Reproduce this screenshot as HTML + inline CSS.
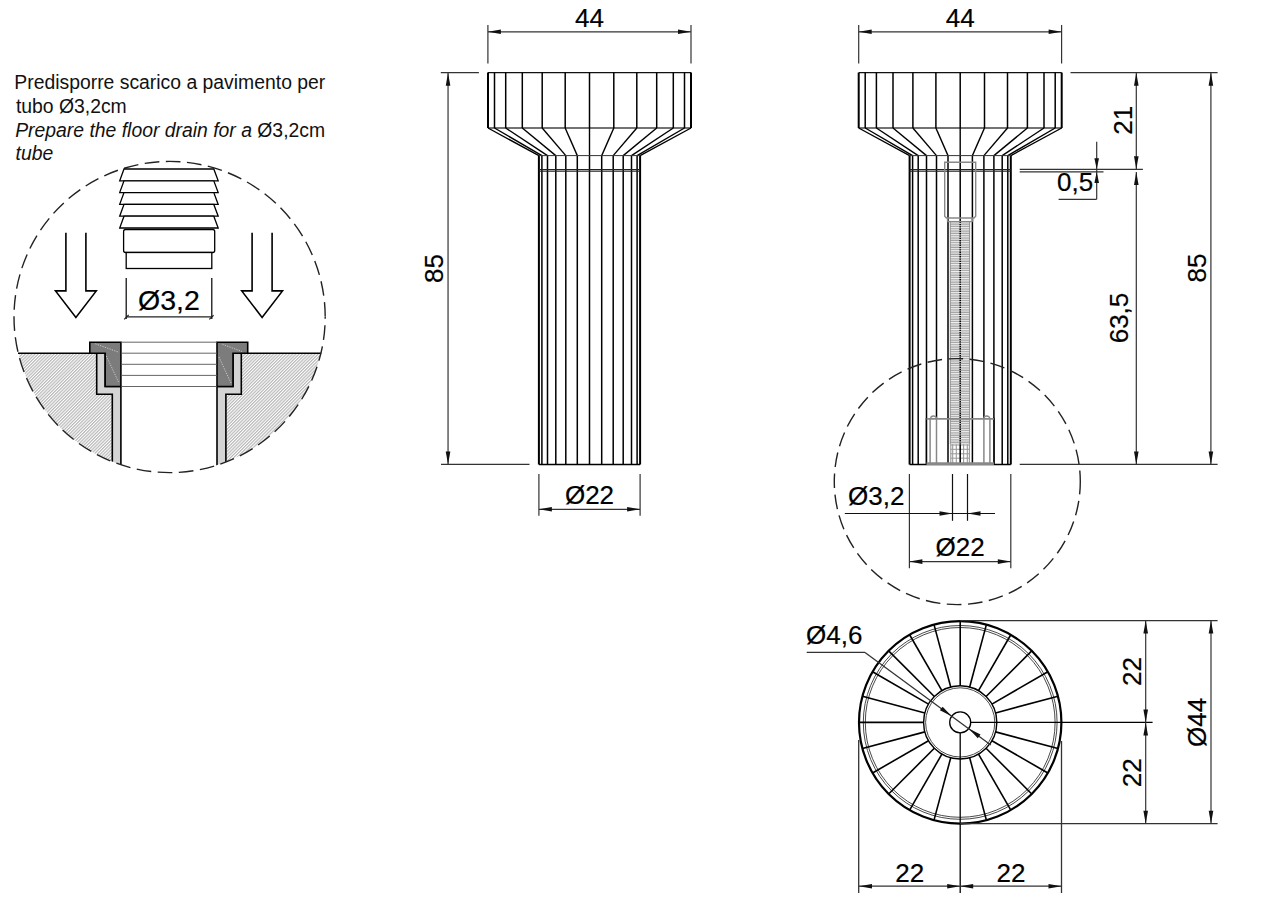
<!DOCTYPE html>
<html><head><meta charset="utf-8"><style>
html,body{margin:0;padding:0;background:#fff;width:1261px;height:902px;overflow:hidden}
svg{display:block}
text{font-family:"Liberation Sans",sans-serif;fill:#000;stroke:#000;stroke-width:0.2px}
text.b{stroke:none;fill:#111}
</style></head><body>
<svg width="1261" height="902" viewBox="0 0 1261 902">
<defs>
<pattern id="hat" patternUnits="userSpaceOnUse" width="2.25" height="10" patternTransform="rotate(45)">
<rect width="2.25" height="10" fill="#fff"/><rect x="0" y="0" width="1.2" height="10" fill="#b8b8b8"/></pattern>
<pattern id="thr" patternUnits="userSpaceOnUse" width="20" height="2.32" y="221.6">
<rect width="20" height="2.32" fill="#a2a2a2"/><rect y="0.9" width="20" height="0.95" fill="#fff"/></pattern>
</defs>
<rect width="1261" height="902" fill="#fff"/>
<line x1="488.00" y1="72.60" x2="691.00" y2="72.60" stroke="#111" stroke-width="1.3" />
<line x1="488.00" y1="128.00" x2="691.00" y2="128.00" stroke="#444" stroke-width="1.3" />
<line x1="589.50" y1="72.60" x2="589.50" y2="128.00" stroke="#000" stroke-width="1.5" />
<line x1="589.50" y1="128.00" x2="589.50" y2="155.60" stroke="#000" stroke-width="1.4" />
<line x1="589.50" y1="155.60" x2="589.50" y2="464.40" stroke="#000" stroke-width="1.5" />
<line x1="565.20" y1="72.60" x2="565.20" y2="128.00" stroke="#000" stroke-width="1.5" />
<line x1="565.20" y1="128.00" x2="577.30" y2="155.60" stroke="#000" stroke-width="1.4" />
<line x1="577.30" y1="155.60" x2="577.30" y2="464.40" stroke="#000" stroke-width="1.5" />
<line x1="542.20" y1="72.60" x2="542.20" y2="128.00" stroke="#000" stroke-width="1.5" />
<line x1="542.20" y1="128.00" x2="565.80" y2="155.60" stroke="#000" stroke-width="1.4" />
<line x1="565.80" y1="155.60" x2="565.80" y2="464.40" stroke="#000" stroke-width="1.5" />
<line x1="522.30" y1="72.60" x2="522.30" y2="128.00" stroke="#000" stroke-width="1.5" />
<line x1="522.30" y1="128.00" x2="555.80" y2="155.60" stroke="#000" stroke-width="1.4" />
<line x1="555.80" y1="155.60" x2="555.80" y2="464.40" stroke="#000" stroke-width="1.5" />
<line x1="505.70" y1="72.60" x2="505.70" y2="128.00" stroke="#000" stroke-width="1.5" />
<line x1="505.70" y1="128.00" x2="547.50" y2="155.60" stroke="#000" stroke-width="1.4" />
<line x1="547.50" y1="155.60" x2="547.50" y2="464.40" stroke="#000" stroke-width="1.5" />
<line x1="494.50" y1="72.60" x2="494.50" y2="128.00" stroke="#000" stroke-width="1.5" />
<line x1="494.50" y1="128.00" x2="541.90" y2="155.60" stroke="#000" stroke-width="1.4" />
<line x1="541.90" y1="155.60" x2="541.90" y2="464.40" stroke="#000" stroke-width="1.5" />
<line x1="488.00" y1="72.60" x2="488.00" y2="128.00" stroke="#000" stroke-width="2.0" />
<line x1="488.00" y1="128.00" x2="538.90" y2="155.60" stroke="#000" stroke-width="1.4" />
<line x1="538.90" y1="155.60" x2="538.90" y2="464.40" stroke="#000" stroke-width="2.0" />
<line x1="613.80" y1="72.60" x2="613.80" y2="128.00" stroke="#000" stroke-width="1.5" />
<line x1="613.80" y1="128.00" x2="601.70" y2="155.60" stroke="#000" stroke-width="1.4" />
<line x1="601.70" y1="155.60" x2="601.70" y2="464.40" stroke="#000" stroke-width="1.5" />
<line x1="636.80" y1="72.60" x2="636.80" y2="128.00" stroke="#000" stroke-width="1.5" />
<line x1="636.80" y1="128.00" x2="613.20" y2="155.60" stroke="#000" stroke-width="1.4" />
<line x1="613.20" y1="155.60" x2="613.20" y2="464.40" stroke="#000" stroke-width="1.5" />
<line x1="656.70" y1="72.60" x2="656.70" y2="128.00" stroke="#000" stroke-width="1.5" />
<line x1="656.70" y1="128.00" x2="623.20" y2="155.60" stroke="#000" stroke-width="1.4" />
<line x1="623.20" y1="155.60" x2="623.20" y2="464.40" stroke="#000" stroke-width="1.5" />
<line x1="673.30" y1="72.60" x2="673.30" y2="128.00" stroke="#000" stroke-width="1.5" />
<line x1="673.30" y1="128.00" x2="631.50" y2="155.60" stroke="#000" stroke-width="1.4" />
<line x1="631.50" y1="155.60" x2="631.50" y2="464.40" stroke="#000" stroke-width="1.5" />
<line x1="684.50" y1="72.60" x2="684.50" y2="128.00" stroke="#000" stroke-width="1.5" />
<line x1="684.50" y1="128.00" x2="637.10" y2="155.60" stroke="#000" stroke-width="1.4" />
<line x1="637.10" y1="155.60" x2="637.10" y2="464.40" stroke="#000" stroke-width="1.5" />
<line x1="691.00" y1="72.60" x2="691.00" y2="128.00" stroke="#000" stroke-width="2.0" />
<line x1="691.00" y1="128.00" x2="640.10" y2="155.60" stroke="#000" stroke-width="1.4" />
<line x1="640.10" y1="155.60" x2="640.10" y2="464.40" stroke="#000" stroke-width="2.0" />
<line x1="538.90" y1="155.60" x2="640.10" y2="155.60" stroke="#333" stroke-width="1.0" />
<line x1="538.90" y1="169.60" x2="640.10" y2="169.60" stroke="#222" stroke-width="1.1" />
<line x1="538.90" y1="171.20" x2="640.10" y2="171.20" stroke="#222" stroke-width="1.1" />
<line x1="538.90" y1="464.40" x2="640.10" y2="464.40" stroke="#000" stroke-width="1.5" />
<line x1="858.70" y1="72.60" x2="1061.70" y2="72.60" stroke="#111" stroke-width="1.3" />
<line x1="858.70" y1="128.00" x2="1061.70" y2="128.00" stroke="#444" stroke-width="1.3" />
<line x1="960.20" y1="72.60" x2="960.20" y2="128.00" stroke="#000" stroke-width="1.5" />
<line x1="960.20" y1="128.00" x2="960.20" y2="155.60" stroke="#000" stroke-width="1.4" />
<line x1="960.20" y1="155.60" x2="960.20" y2="464.40" stroke="#000" stroke-width="1.5" />
<line x1="935.90" y1="72.60" x2="935.90" y2="128.00" stroke="#000" stroke-width="1.5" />
<line x1="935.90" y1="128.00" x2="948.00" y2="155.60" stroke="#000" stroke-width="1.4" />
<line x1="948.00" y1="155.60" x2="948.00" y2="464.40" stroke="#000" stroke-width="1.5" />
<line x1="912.90" y1="72.60" x2="912.90" y2="128.00" stroke="#000" stroke-width="1.5" />
<line x1="912.90" y1="128.00" x2="936.50" y2="155.60" stroke="#000" stroke-width="1.4" />
<line x1="936.50" y1="155.60" x2="936.50" y2="464.40" stroke="#000" stroke-width="1.5" />
<line x1="893.00" y1="72.60" x2="893.00" y2="128.00" stroke="#000" stroke-width="1.5" />
<line x1="893.00" y1="128.00" x2="926.50" y2="155.60" stroke="#000" stroke-width="1.4" />
<line x1="926.50" y1="155.60" x2="926.50" y2="464.40" stroke="#000" stroke-width="1.5" />
<line x1="876.40" y1="72.60" x2="876.40" y2="128.00" stroke="#000" stroke-width="1.5" />
<line x1="876.40" y1="128.00" x2="918.20" y2="155.60" stroke="#000" stroke-width="1.4" />
<line x1="918.20" y1="155.60" x2="918.20" y2="464.40" stroke="#000" stroke-width="1.5" />
<line x1="865.20" y1="72.60" x2="865.20" y2="128.00" stroke="#000" stroke-width="1.5" />
<line x1="865.20" y1="128.00" x2="912.60" y2="155.60" stroke="#000" stroke-width="1.4" />
<line x1="912.60" y1="155.60" x2="912.60" y2="464.40" stroke="#000" stroke-width="1.5" />
<line x1="858.70" y1="72.60" x2="858.70" y2="128.00" stroke="#000" stroke-width="2.0" />
<line x1="858.70" y1="128.00" x2="909.60" y2="155.60" stroke="#000" stroke-width="1.4" />
<line x1="909.60" y1="155.60" x2="909.60" y2="464.40" stroke="#000" stroke-width="2.0" />
<line x1="984.50" y1="72.60" x2="984.50" y2="128.00" stroke="#000" stroke-width="1.5" />
<line x1="984.50" y1="128.00" x2="972.40" y2="155.60" stroke="#000" stroke-width="1.4" />
<line x1="972.40" y1="155.60" x2="972.40" y2="464.40" stroke="#000" stroke-width="1.5" />
<line x1="1007.50" y1="72.60" x2="1007.50" y2="128.00" stroke="#000" stroke-width="1.5" />
<line x1="1007.50" y1="128.00" x2="983.90" y2="155.60" stroke="#000" stroke-width="1.4" />
<line x1="983.90" y1="155.60" x2="983.90" y2="464.40" stroke="#000" stroke-width="1.5" />
<line x1="1027.40" y1="72.60" x2="1027.40" y2="128.00" stroke="#000" stroke-width="1.5" />
<line x1="1027.40" y1="128.00" x2="993.90" y2="155.60" stroke="#000" stroke-width="1.4" />
<line x1="993.90" y1="155.60" x2="993.90" y2="464.40" stroke="#000" stroke-width="1.5" />
<line x1="1044.00" y1="72.60" x2="1044.00" y2="128.00" stroke="#000" stroke-width="1.5" />
<line x1="1044.00" y1="128.00" x2="1002.20" y2="155.60" stroke="#000" stroke-width="1.4" />
<line x1="1002.20" y1="155.60" x2="1002.20" y2="464.40" stroke="#000" stroke-width="1.5" />
<line x1="1055.20" y1="72.60" x2="1055.20" y2="128.00" stroke="#000" stroke-width="1.5" />
<line x1="1055.20" y1="128.00" x2="1007.80" y2="155.60" stroke="#000" stroke-width="1.4" />
<line x1="1007.80" y1="155.60" x2="1007.80" y2="464.40" stroke="#000" stroke-width="1.5" />
<line x1="1061.70" y1="72.60" x2="1061.70" y2="128.00" stroke="#000" stroke-width="2.0" />
<line x1="1061.70" y1="128.00" x2="1010.80" y2="155.60" stroke="#000" stroke-width="1.4" />
<line x1="1010.80" y1="155.60" x2="1010.80" y2="464.40" stroke="#000" stroke-width="2.0" />
<line x1="909.60" y1="155.60" x2="1010.80" y2="155.60" stroke="#333" stroke-width="1.0" />
<line x1="909.60" y1="169.60" x2="1010.80" y2="169.60" stroke="#222" stroke-width="1.1" />
<line x1="909.60" y1="171.20" x2="1010.80" y2="171.20" stroke="#222" stroke-width="1.1" />
<line x1="909.60" y1="464.40" x2="1010.80" y2="464.40" stroke="#000" stroke-width="1.5" />
<rect x="926.50" y="418.8" width="67.40" height="45.19999999999999" fill="#fff"/>
<line x1="930.10" y1="418.80" x2="930.10" y2="464.00" stroke="#888" stroke-width="1.5" />
<line x1="936.50" y1="418.80" x2="936.50" y2="464.00" stroke="#888" stroke-width="1.5" />
<line x1="983.90" y1="418.80" x2="983.90" y2="464.00" stroke="#888" stroke-width="1.5" />
<line x1="989.90" y1="418.80" x2="989.90" y2="464.00" stroke="#888" stroke-width="1.5" />
<path d="M930.6,418.8 a3,2.8 0 0 1 6,0" fill="none" stroke="#888" stroke-width="1.3"/>
<path d="M983.8,418.8 a3,2.8 0 0 1 6,0" fill="none" stroke="#888" stroke-width="1.3"/>
<line x1="926.50" y1="417.80" x2="926.50" y2="464.00" stroke="#000" stroke-width="1.5" />
<line x1="993.90" y1="417.80" x2="993.90" y2="464.00" stroke="#000" stroke-width="1.5" />
<rect x="950.3" y="221.6" width="19.3" height="222.7" fill="url(#thr)"/>
<line x1="948.00" y1="417.80" x2="948.00" y2="464.00" stroke="#000" stroke-width="1.5" />
<line x1="972.40" y1="417.80" x2="972.40" y2="464.00" stroke="#000" stroke-width="1.5" />
<line x1="960.20" y1="221.60" x2="960.20" y2="464.00" stroke="#000" stroke-width="1.5" stroke-dasharray="1.4 0.9"/>
<path d="M944.7,162.2 L975.7,162.2 L975.7,216.3 L974.0,218 L946.4,218 L944.7,216.3 Z" fill="none" stroke="#888" stroke-width="1.4"/>
<line x1="947.50" y1="218.00" x2="947.50" y2="221.60" stroke="#888" stroke-width="1.3" />
<line x1="972.70" y1="218.00" x2="972.70" y2="221.60" stroke="#888" stroke-width="1.3" />
<line x1="947.50" y1="221.60" x2="972.70" y2="221.60" stroke="#888" stroke-width="1.3" />
<line x1="950.30" y1="221.60" x2="950.30" y2="444.30" stroke="#888" stroke-width="0.9" />
<line x1="969.60" y1="221.60" x2="969.60" y2="444.30" stroke="#888" stroke-width="0.9" />
<rect x="950.5" y="444.3" width="19" height="19" fill="#fff"/>
<line x1="950.80" y1="444.30" x2="950.80" y2="464.00" stroke="#999" stroke-width="1.1" />
<line x1="952.70" y1="444.30" x2="952.70" y2="464.00" stroke="#999" stroke-width="1.1" />
<line x1="956.30" y1="444.30" x2="956.30" y2="464.00" stroke="#999" stroke-width="1.1" />
<line x1="963.60" y1="444.30" x2="963.60" y2="464.00" stroke="#999" stroke-width="1.1" />
<line x1="967.30" y1="444.30" x2="967.30" y2="464.00" stroke="#999" stroke-width="1.1" />
<line x1="969.40" y1="444.30" x2="969.40" y2="464.00" stroke="#999" stroke-width="1.1" />
<line x1="950.50" y1="445.00" x2="969.50" y2="445.00" stroke="#999" stroke-width="1.0" />
<line x1="950.50" y1="449.30" x2="969.50" y2="449.30" stroke="#999" stroke-width="1.0" />
<line x1="950.50" y1="453.80" x2="969.50" y2="453.80" stroke="#999" stroke-width="1.0" />
<line x1="950.50" y1="458.20" x2="969.50" y2="458.20" stroke="#999" stroke-width="1.0" />
<line x1="960.20" y1="444.30" x2="960.20" y2="464.00" stroke="#000" stroke-width="1.5" />
<line x1="926.50" y1="418.80" x2="993.90" y2="418.80" stroke="#888" stroke-width="1.7" />
<line x1="926.50" y1="463.60" x2="993.90" y2="463.60" stroke="#888" stroke-width="2.8" />
<line x1="487.90" y1="25.00" x2="487.90" y2="63.50" stroke="#333" stroke-width="1.2" />
<line x1="691.00" y1="25.00" x2="691.00" y2="63.50" stroke="#333" stroke-width="1.2" />
<line x1="487.90" y1="31.80" x2="691.00" y2="31.80" stroke="#333" stroke-width="1.2" />
<polygon points="487.90,31.80 500.90,29.50 500.90,34.10" fill="#111"/>
<polygon points="691.00,31.80 678.00,34.10 678.00,29.50" fill="#111"/>
<text x="589.50" y="26.60" font-size="26" text-anchor="middle" >44</text>
<line x1="440.80" y1="72.70" x2="478.90" y2="72.70" stroke="#333" stroke-width="1.2" />
<line x1="441.00" y1="464.40" x2="529.50" y2="464.40" stroke="#333" stroke-width="1.2" />
<line x1="448.05" y1="72.70" x2="448.05" y2="464.40" stroke="#333" stroke-width="1.2" />
<polygon points="448.05,72.70 450.35,85.70 445.75,85.70" fill="#111"/>
<polygon points="448.05,464.40 445.75,451.40 450.35,451.40" fill="#111"/>
<text x="442.80" y="268.50" font-size="26" text-anchor="middle" transform="rotate(-90 442.80 268.50)" >85</text>
<line x1="538.90" y1="474.00" x2="538.90" y2="515.70" stroke="#333" stroke-width="1.2" />
<line x1="640.10" y1="474.00" x2="640.10" y2="515.70" stroke="#333" stroke-width="1.2" />
<line x1="538.90" y1="509.30" x2="640.10" y2="509.30" stroke="#333" stroke-width="1.2" />
<polygon points="538.90,509.30 551.90,507.00 551.90,511.60" fill="#111"/>
<polygon points="640.10,509.30 627.10,511.60 627.10,507.00" fill="#111"/>
<text x="589.50" y="503.80" font-size="26" text-anchor="middle" >Ø22</text>
<line x1="858.70" y1="25.00" x2="858.70" y2="63.50" stroke="#333" stroke-width="1.2" />
<line x1="1061.60" y1="25.00" x2="1061.60" y2="63.50" stroke="#333" stroke-width="1.2" />
<line x1="858.70" y1="31.80" x2="1061.60" y2="31.80" stroke="#333" stroke-width="1.2" />
<polygon points="858.70,31.80 871.70,29.50 871.70,34.10" fill="#111"/>
<polygon points="1061.60,31.80 1048.60,34.10 1048.60,29.50" fill="#111"/>
<text x="960.20" y="26.60" font-size="26" text-anchor="middle" >44</text>
<line x1="1070.50" y1="72.70" x2="1217.60" y2="72.70" stroke="#333" stroke-width="1.2" />
<line x1="1019.70" y1="169.30" x2="1142.90" y2="169.30" stroke="#333" stroke-width="1.2" />
<line x1="1019.70" y1="171.90" x2="1103.50" y2="171.90" stroke="#333" stroke-width="1.2" />
<line x1="1019.70" y1="464.40" x2="1217.60" y2="464.40" stroke="#333" stroke-width="1.2" />
<line x1="1136.30" y1="72.70" x2="1136.30" y2="169.30" stroke="#333" stroke-width="1.2" />
<polygon points="1136.30,72.70 1138.60,85.70 1134.00,85.70" fill="#111"/>
<polygon points="1136.30,169.30 1134.00,156.30 1138.60,156.30" fill="#111"/>
<text x="1131.70" y="120.20" font-size="26" text-anchor="middle" transform="rotate(-90 1131.70 120.20)" >21</text>
<line x1="1136.30" y1="171.90" x2="1136.30" y2="464.40" stroke="#333" stroke-width="1.2" />
<polygon points="1136.30,171.90 1138.60,184.90 1134.00,184.90" fill="#111"/>
<polygon points="1136.30,464.40 1134.00,451.40 1138.60,451.40" fill="#111"/>
<text x="1127.80" y="318.00" font-size="26" text-anchor="middle" transform="rotate(-90 1127.80 318.00)" >63,5</text>
<line x1="1210.90" y1="72.70" x2="1210.90" y2="464.40" stroke="#333" stroke-width="1.2" />
<polygon points="1210.90,72.70 1213.20,85.70 1208.60,85.70" fill="#111"/>
<polygon points="1210.90,464.40 1208.60,451.40 1213.20,451.40" fill="#111"/>
<text x="1206.30" y="268.00" font-size="26" text-anchor="middle" transform="rotate(-90 1206.30 268.00)" >85</text>
<line x1="1096.70" y1="141.70" x2="1096.70" y2="199.30" stroke="#333" stroke-width="1.2" />
<polygon points="1096.70,169.30 1094.40,158.30 1099.00,158.30" fill="#111"/>
<polygon points="1096.70,171.90 1099.00,182.90 1094.40,182.90" fill="#111"/>
<line x1="1058.60" y1="199.30" x2="1096.70" y2="199.30" stroke="#333" stroke-width="1.2" />
<text x="1075.20" y="191.20" font-size="26" text-anchor="middle" >0,5</text>
<line x1="909.40" y1="474.00" x2="909.40" y2="568.20" stroke="#333" stroke-width="1.2" />
<line x1="1010.80" y1="474.00" x2="1010.80" y2="568.20" stroke="#333" stroke-width="1.2" />
<line x1="909.40" y1="561.60" x2="1010.80" y2="561.60" stroke="#333" stroke-width="1.2" />
<polygon points="909.40,561.60 922.40,559.30 922.40,563.90" fill="#111"/>
<polygon points="1010.80,561.60 997.80,563.90 997.80,559.30" fill="#111"/>
<text x="960.20" y="555.90" font-size="26" text-anchor="middle" >Ø22</text>
<line x1="952.50" y1="474.00" x2="952.50" y2="520.80" stroke="#111" stroke-width="1.2" />
<line x1="967.50" y1="474.00" x2="967.50" y2="520.80" stroke="#111" stroke-width="1.2" />
<line x1="844.80" y1="513.50" x2="995.00" y2="513.50" stroke="#111" stroke-width="1.2" />
<polygon points="952.50,513.50 939.50,515.80 939.50,511.20" fill="#111"/>
<polygon points="967.50,513.50 980.50,511.20 980.50,515.80" fill="#111"/>
<text x="876.30" y="505.00" font-size="26" text-anchor="middle" >Ø3,2</text>
<circle cx="957.3" cy="481.6" r="123" fill="none" stroke="#222" stroke-width="1.4" stroke-dasharray="14.7 6.5" stroke-dashoffset="1.85"/>
<circle cx="960.2" cy="722.4" r="101.2" fill="none" stroke="#000" stroke-width="2.2"/>
<circle cx="960.2" cy="722.4" r="96.9" fill="none" stroke="#333" stroke-width="0.9"/>
<circle cx="960.2" cy="722.4" r="94.9" fill="none" stroke="#333" stroke-width="0.9"/>
<line x1="960.20" y1="685.80" x2="960.20" y2="621.20" stroke="#000" stroke-width="1.6" />
<line x1="969.67" y1="687.05" x2="986.39" y2="624.65" stroke="#000" stroke-width="1.6" />
<line x1="978.50" y1="690.70" x2="1010.80" y2="634.76" stroke="#000" stroke-width="1.6" />
<line x1="986.08" y1="696.52" x2="1031.76" y2="650.84" stroke="#000" stroke-width="1.6" />
<line x1="991.90" y1="704.10" x2="1047.84" y2="671.80" stroke="#000" stroke-width="1.6" />
<line x1="995.55" y1="712.93" x2="1057.95" y2="696.21" stroke="#000" stroke-width="1.6" />
<line x1="995.55" y1="731.87" x2="1057.95" y2="748.59" stroke="#000" stroke-width="1.6" />
<line x1="991.90" y1="740.70" x2="1047.84" y2="773.00" stroke="#000" stroke-width="1.6" />
<line x1="986.08" y1="748.28" x2="1031.76" y2="793.96" stroke="#000" stroke-width="1.6" />
<line x1="978.50" y1="754.10" x2="1010.80" y2="810.04" stroke="#000" stroke-width="1.6" />
<line x1="969.67" y1="757.75" x2="986.39" y2="820.15" stroke="#000" stroke-width="1.6" />
<line x1="950.73" y1="757.75" x2="934.01" y2="820.15" stroke="#000" stroke-width="1.6" />
<line x1="941.90" y1="754.10" x2="909.60" y2="810.04" stroke="#000" stroke-width="1.6" />
<line x1="934.32" y1="748.28" x2="888.64" y2="793.96" stroke="#000" stroke-width="1.6" />
<line x1="928.50" y1="740.70" x2="872.56" y2="773.00" stroke="#000" stroke-width="1.6" />
<line x1="924.85" y1="731.87" x2="862.45" y2="748.59" stroke="#000" stroke-width="1.6" />
<line x1="923.60" y1="722.40" x2="859.00" y2="722.40" stroke="#000" stroke-width="1.6" />
<line x1="924.85" y1="712.93" x2="862.45" y2="696.21" stroke="#000" stroke-width="1.6" />
<line x1="928.50" y1="704.10" x2="872.56" y2="671.80" stroke="#000" stroke-width="1.6" />
<line x1="934.32" y1="696.52" x2="888.64" y2="650.84" stroke="#000" stroke-width="1.6" />
<line x1="941.90" y1="690.70" x2="909.60" y2="634.76" stroke="#000" stroke-width="1.6" />
<line x1="950.73" y1="687.05" x2="934.01" y2="624.65" stroke="#000" stroke-width="1.6" />
<circle cx="960.2" cy="722.4" r="36.6" fill="none" stroke="#000" stroke-width="1.4"/>
<circle cx="960.2" cy="722.4" r="34.6" fill="none" stroke="#333" stroke-width="0.9"/>
<circle cx="960.2" cy="722.4" r="10.5" fill="none" stroke="#000" stroke-width="1.3"/>
<line x1="960.20" y1="732.90" x2="960.20" y2="893.00" stroke="#000" stroke-width="1.3" />
<line x1="970.70" y1="722.40" x2="1152.60" y2="722.40" stroke="#000" stroke-width="1.2" />
<line x1="960.20" y1="620.60" x2="1217.60" y2="620.60" stroke="#333" stroke-width="1.3" />
<line x1="960.20" y1="823.70" x2="1217.60" y2="823.70" stroke="#333" stroke-width="1.3" />
<line x1="858.70" y1="740.00" x2="858.70" y2="893.00" stroke="#333" stroke-width="1.3" />
<line x1="1061.50" y1="741.00" x2="1061.50" y2="893.00" stroke="#333" stroke-width="1.3" />
<line x1="859.00" y1="886.20" x2="1061.50" y2="886.20" stroke="#333" stroke-width="1.2" />
<polygon points="859.00,886.20 872.00,883.90 872.00,888.50" fill="#111"/>
<polygon points="960.20,886.20 947.20,888.50 947.20,883.90" fill="#111"/>
<polygon points="960.20,886.20 973.20,883.90 973.20,888.50" fill="#111"/>
<polygon points="1061.50,886.20 1048.50,888.50 1048.50,883.90" fill="#111"/>
<text x="909.80" y="882.00" font-size="26" text-anchor="middle" >22</text>
<text x="1011.00" y="882.00" font-size="26" text-anchor="middle" >22</text>
<line x1="1145.70" y1="620.60" x2="1145.70" y2="823.70" stroke="#333" stroke-width="1.2" />
<polygon points="1145.70,620.60 1148.00,633.60 1143.40,633.60" fill="#111"/>
<polygon points="1145.70,722.40 1143.40,709.40 1148.00,709.40" fill="#111"/>
<polygon points="1145.70,722.40 1148.00,735.40 1143.40,735.40" fill="#111"/>
<polygon points="1145.70,823.70 1143.40,810.70 1148.00,810.70" fill="#111"/>
<text x="1141.20" y="671.60" font-size="26" text-anchor="middle" transform="rotate(-90 1141.20 671.60)" >22</text>
<text x="1141.20" y="772.70" font-size="26" text-anchor="middle" transform="rotate(-90 1141.20 772.70)" >22</text>
<line x1="1211.00" y1="620.60" x2="1211.00" y2="823.70" stroke="#333" stroke-width="1.2" />
<polygon points="1211.00,620.60 1213.30,633.60 1208.70,633.60" fill="#111"/>
<polygon points="1211.00,823.70 1208.70,810.70 1213.30,810.70" fill="#111"/>
<text x="1206.40" y="722.40" font-size="26" text-anchor="middle" transform="rotate(-90 1206.40 722.40)" >Ø44</text>
<line x1="806.70" y1="652.40" x2="865.00" y2="652.40" stroke="#333" stroke-width="1.3" />
<line x1="865.00" y1="652.40" x2="990.81" y2="744.91" stroke="#333" stroke-width="1.3" />
<polygon points="951.74,716.18 939.90,710.33 942.63,706.63" fill="#111"/>
<polygon points="968.66,728.62 980.50,734.47 977.77,738.17" fill="#111"/>
<text x="806.00" y="643.50" font-size="26" text-anchor="start" >Ø4,6</text>
<clipPath id="lc"><circle cx="169.6" cy="317.0" r="155.6"/></clipPath>
<g clip-path="url(#lc)">
<path d="M0,353.2 L96.7,353.2 L96.7,394.2 L112.3,394.2 L112.3,480 L0,480 Z" fill="url(#hat)"/>
<path d="M241.3,353.2 L340,353.2 L340,480 L225.9,480 L225.9,394.2 L241.3,394.2 Z" fill="url(#hat)"/>
<path d="M96.7,353.2 L105.2,353.2 L105.2,386.5 L120.9,386.5 L120.9,480 L112.3,480 L112.3,394.2 L96.7,394.2 Z" fill="#d4d4d4" stroke="#000" stroke-width="1.6"/>
<path d="M241.3,353.2 L233,353.2 L233,386.5 L217,386.5 L217,480 L225.9,480 L225.9,394.2 L241.3,394.2 Z" fill="#d4d4d4" stroke="#000" stroke-width="1.6"/>
</g>
<line x1="18.00" y1="353.20" x2="96.70" y2="353.20" stroke="#000" stroke-width="1.5" />
<line x1="241.30" y1="353.20" x2="321.20" y2="353.20" stroke="#000" stroke-width="1.5" />
<polygon points="89.80,342.20 120.90,342.20 120.90,386.50 105.20,386.50 105.20,353.20 89.80,353.20" fill="#7c7c7c" stroke="#000" stroke-width="1.6" />
<polygon points="247.70,342.20 217.00,342.20 217.00,386.50 233.00,386.50 233.00,353.20 247.70,353.20" fill="#7c7c7c" stroke="#000" stroke-width="1.6" />
<line x1="95.40" y1="343.80" x2="118.40" y2="352.10" stroke="#e0e0e0" stroke-width="0.8" stroke-dasharray="1.2 1.3"/>
<line x1="106.30" y1="355.90" x2="119.00" y2="383.00" stroke="#e0e0e0" stroke-width="0.8" stroke-dasharray="1.2 1.3"/>
<line x1="222.40" y1="344.30" x2="242.00" y2="351.50" stroke="#e0e0e0" stroke-width="0.8" stroke-dasharray="1.2 1.3"/>
<line x1="218.90" y1="357.00" x2="231.00" y2="383.00" stroke="#e0e0e0" stroke-width="0.8" stroke-dasharray="1.2 1.3"/>
<line x1="120.90" y1="342.20" x2="217.00" y2="342.20" stroke="#555" stroke-width="0.9" />
<line x1="120.90" y1="353.20" x2="217.00" y2="353.20" stroke="#555" stroke-width="0.9" />
<line x1="120.90" y1="364.30" x2="217.00" y2="364.30" stroke="#555" stroke-width="0.9" />
<line x1="120.90" y1="375.40" x2="217.00" y2="375.40" stroke="#555" stroke-width="0.9" />
<line x1="120.90" y1="386.50" x2="217.00" y2="386.50" stroke="#555" stroke-width="0.9" />
<circle cx="169.6" cy="317.0" r="155.6" fill="none" stroke="#222" stroke-width="1.4" stroke-dasharray="14.7 6.5" stroke-dashoffset="12.85"/>
<polygon points="124.00,169.00 213.80,169.00 218.20,180.80 119.70,180.80" fill="#fff" stroke="#000" stroke-width="1.3" />
<polygon points="124.00,180.80 213.80,180.80 218.20,192.60 119.70,192.60" fill="#fff" stroke="#000" stroke-width="1.3" />
<polygon points="124.00,192.60 213.80,192.60 218.20,204.40 119.70,204.40" fill="#fff" stroke="#000" stroke-width="1.3" />
<polygon points="124.00,204.40 213.80,204.40 218.20,216.20 119.70,216.20" fill="#fff" stroke="#000" stroke-width="1.3" />
<polygon points="124.00,216.20 213.80,216.20 218.20,228.00 119.70,228.00" fill="#fff" stroke="#000" stroke-width="1.3" />
<rect x="123.6" y="229.5" width="91.1" height="23" rx="2" fill="#fff" stroke="#000" stroke-width="1.3"/>
<rect x="126.2" y="252.5" width="85.6" height="16" fill="#fff" stroke="#000" stroke-width="1.3"/>
<line x1="126.20" y1="278.00" x2="126.20" y2="319.00" stroke="#000" stroke-width="1.2" />
<line x1="211.80" y1="278.00" x2="211.80" y2="319.00" stroke="#000" stroke-width="1.2" />
<line x1="126.20" y1="316.90" x2="211.80" y2="316.90" stroke="#222" stroke-width="1.4" />
<line x1="124.20" y1="319.30" x2="128.70" y2="314.80" stroke="#222" stroke-width="1.2" />
<line x1="209.30" y1="319.40" x2="213.60" y2="315.20" stroke="#222" stroke-width="1.2" />
<text x="169.00" y="310.00" font-size="28.5" text-anchor="middle" >Ø3,2</text>
<polyline points="65.90,232.80 65.90,290.90 55.50,290.90 75.90,317.40 96.30,290.90 85.90,290.90 85.90,232.80" fill="none" stroke="#000" stroke-width="1.6" />
<polyline points="252.10,232.80 252.10,290.90 241.70,290.90 262.10,317.40 282.50,290.90 272.10,290.90 272.10,232.80" fill="none" stroke="#000" stroke-width="1.6" />
<text class="b" x="14.3" y="88.9" font-size="19.36">Predisporre scarico a pavimento per</text>
<text class="b" x="15.9" y="112.6" font-size="19.36">tubo Ø3,2cm</text>
<text class="b" x="15.2" y="136.6" font-size="19.36"><tspan font-style="italic">Prepare the floor drain for a </tspan>Ø3,2cm</text>
<text class="b" x="15.6" y="159.5" font-size="19.36" font-style="italic">tube</text>
</svg>
</body></html>
